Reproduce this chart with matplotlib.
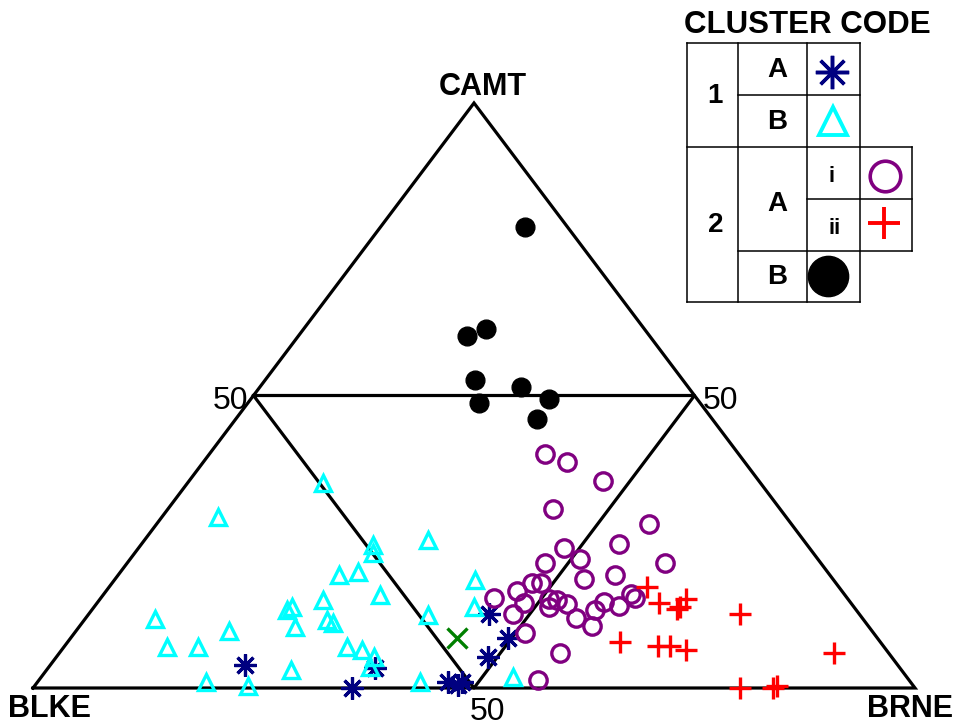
import matplotlib
matplotlib.use("Agg")
import matplotlib.pyplot as plt
import numpy as np

plt.rcParams['font.family'] = ['Liberation Sans', 'DejaVu Sans']

# ---- data: composition (%) CAMT, BRNE, BLKE ----
# Cluster 1A (asterisk)
c1a_camt = [3.9, 0.0, 3.4, 1.0, 0.5, 1.0, 12.7, 8.6, 5.3]
c1a_brne = [22.1, 36.2, 37.1, 46.5, 47.9, 48.1, 45.3, 49.6, 48.9]
c1a_blke = [74.0, 63.8, 59.5, 52.5, 51.6, 50.9, 42.0, 41.8, 45.8]

# Cluster 1B (triangle)
c1b_camt = [29.2, 35.0, 11.8, 7.0, 7.0, 9.7, 1.0, 0.3, 3.1, 13.3, 13.9, 10.4, 15.0, 11.6, 11.1,
            19.3, 19.8, 24.4, 23.1, 15.9, 25.3, 12.5, 7.0, 6.5, 5.3, 3.6, 1.0, 18.5, 13.9, 1.9]
c1b_brne = [6.4, 15.4, 7.9, 11.7, 15.2, 17.4, 19.1, 24.2, 27.7, 22.2, 22.4, 24.5, 25.4, 27.5, 28.5,
            25.0, 26.9, 26.3, 27.0, 31.4, 32.1, 38.5, 32.1, 34.1, 36.0, 36.4, 43.4, 40.9, 43.1, 53.5]
c1b_blke = [64.4, 49.6, 80.3, 81.3, 77.8, 72.9, 79.9, 75.5, 69.2, 64.5, 63.7, 65.1, 59.6, 60.9, 60.4,
            55.7, 53.3, 49.3, 49.9, 52.7, 42.6, 49.0, 60.9, 59.4, 58.7, 60.0, 55.6, 40.6, 43.0, 44.6]

# Cluster 2A-i (circle)
c2ai_camt = [40.0, 38.6, 35.4, 30.6, 28.0, 24.6, 23.9, 22.1, 21.4, 21.4, 18.6, 19.3, 16.6, 18.0, 18.0, 15.4,
             14.5, 15.2, 15.0, 13.9, 14.4, 12.7, 12.0, 10.6, 13.3, 14.7, 14.0, 16.1, 15.4, 9.4, 6.0, 1.4]
c2ai_brne = [38.1, 41.3, 46.9, 43.7, 55.8, 54.1, 48.2, 51.0, 47.3, 61.0, 53.2, 56.3, 46.6, 47.6, 48.6, 44.6,
             48.4, 50.9, 51.9, 51.5, 53.4, 48.1, 55.6, 58.1, 57.1, 57.4, 59.4, 59.7, 60.5, 51.1, 56.8, 56.5]
c2ai_blke = [21.9, 20.1, 17.7, 25.7, 16.2, 21.3, 27.9, 26.9, 31.3, 17.6, 28.2, 24.4, 36.8, 34.4, 33.4, 40.0,
             37.1, 33.9, 33.1, 34.6, 32.2, 39.2, 32.4, 31.3, 29.6, 27.9, 26.6, 24.2, 24.1, 39.5, 37.2, 42.1]

# Cluster 2A-ii (plus)
c2aii_camt = [17.3, 14.5, 13.5, 13.9, 15.2, 12.7, 7.9, 7.2, 7.2, 6.5, 6.0, 0.0, 0.0, 0.3]
c2aii_brne = [61.0, 63.7, 66.3, 66.4, 66.4, 73.8, 62.6, 67.3, 68.6, 70.8, 87.8, 80.2, 83.9, 84.2]
c2aii_blke = [21.7, 21.8, 20.2, 19.7, 18.4, 13.5, 29.5, 25.5, 24.2, 22.7, 6.2, 19.8, 16.1, 15.5]

# Cluster 2B (filled dot)
c2b_camt = [78.8, 60.2, 61.4, 52.6, 48.7, 51.5, 49.4, 46.0]
c2b_brne = [16.4, 19.1, 20.7, 23.8, 26.2, 29.6, 33.8, 34.1]
c2b_blke = [4.8, 20.7, 17.9, 23.6, 25.1, 18.9, 16.8, 19.9]

# Unassigned sample (green x)
other_camt = [8.6]
other_brne = [43.8]
other_blke = [47.6]

vertex_labels = ["CAMT", "BLKE", "BRNE"]
mid_label = "50"


def tern(camt, brne, blke):
    camt = np.asarray(camt, float)
    brne = np.asarray(brne, float)
    blke = np.asarray(blke, float)
    tot = camt + brne + blke
    c = camt / tot * 100
    b = brne / tot * 100
    return b + c / 2.0, c


W, H = 958, 728
fig = plt.figure(figsize=(W / 100, H / 100), dpi=100)

# main ternary axes (pixel mapping: px = 33 + 8.82 x ; py = 688 - 5.85 y)
ax = fig.add_axes([0, 0, 1, 1])
ax.set_xlim(-33 / 8.82, (W - 33) / 8.82)
ax.set_ylim((688 - H) / 5.85, 688 / 5.85)
ax.axis('off')

# outer triangle
tx, ty = tern([0, 0, 100, 0], [0, 100, 0, 0], [100, 0, 0, 100])
ax.plot(tx, ty, color='black', lw=2.3, zorder=1, solid_joinstyle='miter')
# inner 50% triangle
mx, my = tern([50, 0, 50, 50], [0, 50, 50, 0], [50, 50, 0, 50])
ax.plot(mx, my, color='black', lw=2.3, zorder=1)

STAR = (8, 2, 0)
mk = dict(linestyle='none', zorder=3)
x, y = tern(c1a_camt, c1a_brne, c1a_blke)
ax.plot(x, y, marker=STAR, ms=16, mew=2.3, color='#000080', **mk)
x, y = tern(c1b_camt, c1b_brne, c1b_blke)
ax.plot(x, y, marker='^', ms=12, mew=2.4, mfc='none', mec='#00FFFF', **mk)
x, y = tern(c2ai_camt, c2ai_brne, c2ai_blke)
ax.plot(x, y, marker='o', ms=12.5, mew=2.4, mfc='none', mec='#800080', **mk)
x, y = tern(c2aii_camt, c2aii_brne, c2aii_blke)
ax.plot(x, y, marker='+', ms=16, mew=2.4, color='#FF0000', **mk)
x, y = tern(c2b_camt, c2b_brne, c2b_blke)
ax.plot(x, y, marker='o', ms=13.5, color='black', **mk)
x, y = tern(other_camt, other_brne, other_blke)
ax.plot(x, y, marker='x', ms=14, mew=2.4, color='#008000', **mk)

# overlay axes in pixel coordinates for labels and legend table
lax = fig.add_axes([0, 0, 1, 1])
lax.set_xlim(0, W)
lax.set_ylim(H, 0)
lax.axis('off')

lax.text(483, 87, vertex_labels[0], fontsize=22, fontweight='bold', ha='center', va='center')
lax.text(50, 709, vertex_labels[1], fontsize=22, fontweight='bold', ha='center', va='center')
lax.text(910, 709, vertex_labels[2], fontsize=22, fontweight='bold', ha='center', va='center')
lax.text(248, 401, mid_label, fontsize=23, ha='right', va='center')
lax.text(703, 401, mid_label, fontsize=23, ha='left', va='center')
lax.text(488, 712, mid_label, fontsize=23, ha='center', va='center')

# legend table
lax.text(807, 25, "CLUSTER CODE", fontsize=22.5, fontweight='bold', ha='center', va='center')
lw = 1.1
hl = [(42.7, 687, 860), (95, 738, 860), (147, 687, 912), (199.3, 807, 912),
      (250.7, 738, 912), (302.3, 687, 860)]
for yy, x0, x1 in hl:
    lax.plot([x0, x1], [yy, yy], color='black', lw=lw)
vl = [(687, 42.7, 302.3), (738, 42.7, 302.3), (807, 42.7, 302.3), (860, 42.7, 302.3), (912, 147, 250.7)]
for xx, y0, y1 in vl:
    lax.plot([xx, xx], [y0, y1], color='black', lw=lw)

tk = dict(fontweight='bold', ha='center', va='center')
lax.text(715, 96, "1", fontsize=20, **tk)
lax.text(716, 225, "2", fontsize=20, **tk)
lax.text(777, 70, "A", fontsize=20, **tk)
lax.text(777, 122, "B", fontsize=20, **tk)
lax.text(777, 204, "A", fontsize=20, **tk)
lax.text(777, 277, "B", fontsize=20, **tk)
lax.text(832, 176, "i", fontsize=16, **tk)
lax.text(835, 228, "ii", fontsize=16, **tk)

lax.plot([832], [72], marker=STAR, ms=24, mew=2.5, color='#000080')
lax.plot([833], [121], marker='^', ms=20, mew=2.8, mfc='none', mec='#00FFFF')
lax.plot([885], [176], marker='o', ms=22, mew=2.6, mfc='none', mec='#800080')
lax.plot([884], [223], marker='+', ms=23, mew=2.8, color='#FF0000')
lax.plot([828], [276], marker='o', ms=29, color='black')

fig.savefig("out.png", dpi=100)
